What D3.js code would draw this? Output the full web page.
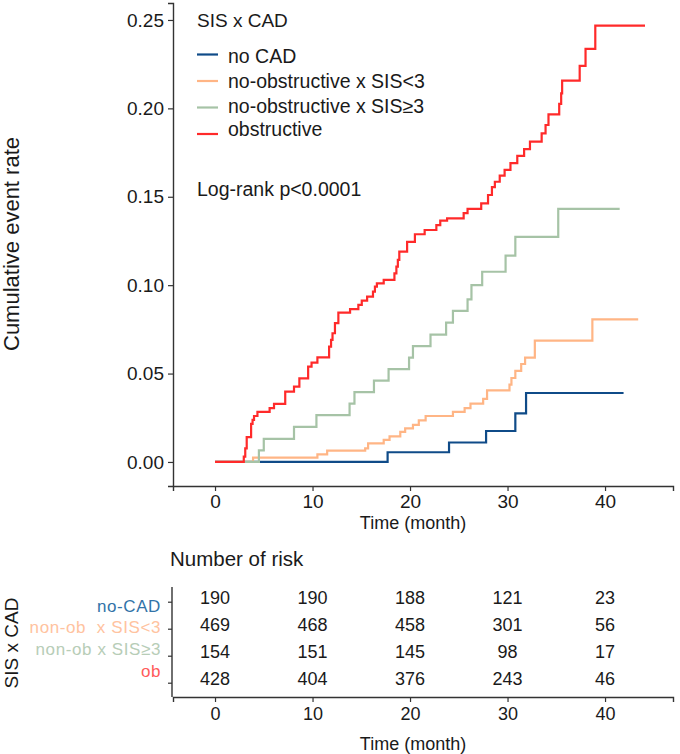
<!DOCTYPE html>
<html><head><meta charset="utf-8">
<script src="https://cdn.jsdelivr.net/npm/d3@7"></script>
<style>body{margin:0;background:#fff}text{font-family:"Liberation Sans",Arial,sans-serif}</style>
</head><body><svg id="c" width="680" height="754"></svg>
<script>
// ---------- data ----------
const seriesNames = ["no CAD", "no-obstructive x SIS<3", "no-obstructive x SIS\u22653", "obstructive"];
const seriesColors = ["#0f4b88", "#ffb585", "#a6c3a6", "#ff2a2a"];
const tableLabels = ["no-CAD", "non-ob  x SIS<3", "non-ob x SIS\u22653", "ob"];
const tableLabelColors = ["#3273a8", "#ffc3a0", "#b7cdb7", "#ff5b5b"];

const noCadT = [0, 17.7, 24.0, 27.8, 30.8, 31.9, 41.9];
const noCadV = [0, 0.0055, 0.011, 0.0175, 0.0275, 0.039, 0.039];

const sisLowT = [0, 3.9, 10.5, 11.5, 15.4, 15.7, 17.3, 17.9, 19.0, 19.5, 20.3, 20.9, 21.6, 24.4, 25.6, 26.2, 27.5, 27.9, 30.2, 30.4, 30.8, 31.4, 31.8, 32.8, 38.7, 43.4];
const sisLowV = [0, 0.0025, 0.0043, 0.0064, 0.0077, 0.0105, 0.0125, 0.0145, 0.017, 0.019, 0.021, 0.0235, 0.026, 0.0283, 0.0305, 0.033, 0.0357, 0.0405, 0.0437, 0.0475, 0.0515, 0.0554, 0.059, 0.0686, 0.0807, 0.0807];

const sisHighT = [0, 4.5, 5.0, 8.1, 10.4, 13.8, 14.3, 16.3, 17.8, 19.9, 20.3, 22.1, 23.7, 24.4, 25.9, 26.3, 27.4, 29.8, 30.8, 35.2, 41.5];
const sisHighV = [0, 0.0065, 0.013, 0.0198, 0.0265, 0.033, 0.0395, 0.046, 0.0525, 0.059, 0.0655, 0.072, 0.0788, 0.0855, 0.092, 0.1, 0.1076, 0.1167, 0.1273, 0.1431, 0.1431];

const obsT = [0, 2.95, 3.1, 3.25, 3.7, 3.85, 4.0, 4.35, 5.6, 6.05, 7.2, 8.1, 8.65, 9.55, 9.9, 10.5, 11.7, 11.9, 12.05, 12.3, 12.65, 13.85, 14.7, 15.05, 15.6, 16.2, 16.4, 16.6, 17.3, 18.4, 18.6, 18.75, 18.9, 19.7, 20.5, 21.5, 22.7, 23.1, 23.8, 25.5, 25.9, 27.3, 28.0, 28.4, 28.7, 29.2, 29.7, 30.3, 31.0, 31.7, 32.3, 33.5, 33.9, 34.2, 35.3, 35.5, 35.6, 37.4, 38.0, 39.0, 44.1];
const obsV = [0, 0.003, 0.0077, 0.014, 0.0215, 0.0238, 0.026, 0.0283, 0.0304, 0.0328, 0.0398, 0.0426, 0.0473, 0.0539, 0.0562, 0.0592, 0.0652, 0.069, 0.0728, 0.0785, 0.0845, 0.0865, 0.0888, 0.0912, 0.0935, 0.0963, 0.0992, 0.101, 0.103, 0.1067, 0.1105, 0.1143, 0.119, 0.1245, 0.1288, 0.1312, 0.134, 0.1365, 0.1378, 0.1407, 0.1431, 0.1463, 0.151, 0.1554, 0.1585, 0.162, 0.1652, 0.169, 0.1731, 0.1769, 0.1812, 0.1859, 0.1906, 0.1966, 0.2025, 0.2085, 0.2157, 0.224, 0.2336, 0.2468, 0.2468];

const xTicks = [0, 10, 20, 30, 40];
const yTicks = [0, 0.05, 0.10, 0.15, 0.20, 0.25];
const riskTimes = [0, 10, 20, 30, 40];
const riskNoCad = [190, 190, 188, 121, 23];
const riskSisLow = [469, 468, 458, 301, 56];
const riskSisHigh = [154, 151, 145, 98, 17];
const riskObs = [428, 404, 376, 243, 46];

// ---------- drawing ----------
const svg = d3.select("#c");
const ink = "#1a1a1a", axisCol = "#333";

const x = d3.scaleLinear().domain([-4.31, 46.97]).range([173, 673]);
const y = d3.scaleLinear().domain([-0.0136, 0.2596]).range([486, 3]);

// axes main
const gx = svg.append("g").attr("transform", "translate(0,486)")
  .call(d3.axisBottom(x).tickValues(xTicks).tickFormat(d3.format("d")).tickSizeOuter(0).tickSize(5).tickPadding(4));
const gy = svg.append("g").attr("transform", "translate(173,0)")
  .call(d3.axisLeft(y).tickValues(yTicks).tickFormat(d3.format(".2f")).tickSizeOuter(0).tickSize(5).tickPadding(4));
[gx, gy].forEach(g => {
  g.select(".domain").attr("stroke", axisCol).attr("stroke-width", 1.4);
  g.selectAll(".tick line").attr("stroke", axisCol).attr("stroke-width", 1.2);
  g.selectAll(".tick text").attr("fill", ink).style("font-size", "19px").style("font-family", "Liberation Sans, Arial, sans-serif");
});

svg.append("text").attr("x", 413).attr("y", 529).attr("text-anchor", "middle")
  .attr("fill", ink).style("font-size", "18px").text("Time (month)");
svg.append("text").attr("transform", "translate(19,244) rotate(-90)").attr("text-anchor", "middle")
  .attr("fill", ink).style("font-size", "22px").text("Cumulative event rate");

// curves
const line = d3.line().x(d => x(d[0])).y(d => y(d[1])).curve(d3.curveStepAfter);
const curves = [[noCadT, noCadV], [sisLowT, sisLowV], [sisHighT, sisHighV], [obsT, obsV]];
curves.forEach((c, i) => {
  const pts = d3.zip(c[0], c[1]);
  svg.append("path").datum(pts).attr("d", line).attr("fill", "none")
    .attr("stroke", seriesColors[i]).attr("stroke-width", 2.2);
});

// legend
svg.append("text").attr("x", 197).attr("y", 27).attr("fill", ink).style("font-size", "19px").text("SIS x CAD");
const legY = [54.5, 81, 107.5, 134];
const legTextY = [62.5, 87.5, 112.5, 136];
seriesNames.forEach((n, i) => {
  svg.append("line").attr("x1", 197).attr("x2", 218).attr("y1", legY[i]).attr("y2", legY[i])
    .attr("stroke", seriesColors[i]).attr("stroke-width", 2.2);
  svg.append("text").attr("x", 228).attr("y", legTextY[i]).attr("fill", ink)
    .style("font-size", "19.5px").text(n);
});
svg.append("text").attr("x", 197).attr("y", 196).attr("fill", ink).style("font-size", "19.5px").text("Log-rank p<0.0001");

// ---------- risk table ----------
svg.append("text").attr("x", 170).attr("y", 566).attr("fill", ink).style("font-size", "20.5px").text("Number of risk");

const xt = d3.scaleLinear().domain([-4.31, 46.97]).range([173, 673]);
const yt = d3.scalePoint().domain(d3.range(4)).range([601.7, 682.7]);
const gxt = svg.append("g").attr("transform", "translate(0,697)")
  .call(d3.axisBottom(xt).tickValues(xTicks).tickFormat(d3.format("d")).tickSizeOuter(0).tickSize(5).tickPadding(5));
const gyt = svg.append("g").attr("transform", "translate(172,0)")
  .call(d3.axisLeft(yt).tickFormat("").tickSizeOuter(0).tickSize(4));
gyt.select(".domain").attr("d", "M-0,587V697");
[gxt, gyt].forEach(g => {
  g.select(".domain").attr("stroke", axisCol).attr("stroke-width", 1.4);
  g.selectAll(".tick line").attr("stroke", axisCol).attr("stroke-width", 1.2);
  g.selectAll(".tick text").attr("fill", ink).style("font-size", "18px").style("font-family", "Liberation Sans, Arial, sans-serif");
});

const riskRows = [riskNoCad, riskSisLow, riskSisHigh, riskObs];
riskRows.forEach((row, r) => {
  row.forEach((v, j) => {
    svg.append("text").attr("x", xt(riskTimes[j])).attr("y", yt(r) - 3.5)
      .attr("text-anchor", "middle").attr("dominant-baseline", "central")
      .attr("fill", ink).style("font-size", "18px").text(v);
  });
});

const labY = d3.scalePoint().domain(d3.range(4)).range([611.5, 677]);
tableLabels.forEach((l, i) => {
  svg.append("text").attr("x", 161).attr("y", labY(i)).attr("text-anchor", "end")
    .attr("fill", tableLabelColors[i]).style("font-size", "17px").style("letter-spacing", "0.6px")
    .style("white-space", "pre").text(l);
});
svg.append("text").attr("transform", "translate(18,643) rotate(-90)").attr("text-anchor", "middle")
  .attr("fill", ink).style("font-size", "19px").text("SIS x CAD");
svg.append("text").attr("x", 413).attr("y", 750).attr("text-anchor", "middle")
  .attr("fill", ink).style("font-size", "18px").text("Time (month)");
</script></body></html>
